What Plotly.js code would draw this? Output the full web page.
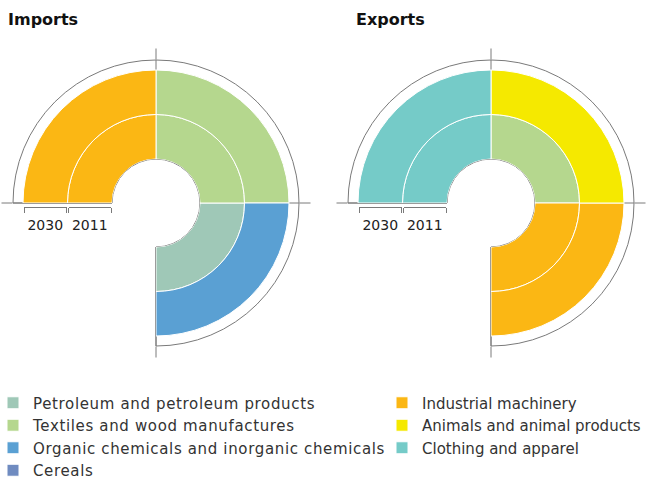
<!DOCTYPE html>
<html><head><meta charset="utf-8">
<script src="https://cdn.plot.ly/plotly-3.0.1.min.js"></script>
<style>html,body{margin:0;padding:0;background:#fff}#chart{width:662px;height:480px}
.legendtext{letter-spacing:0.65px}</style>
</head><body><div id="chart"></div>
<script>
// ---------- data ----------
const ranks = ['1st', '2nd', '3rd'];
const years = ['2011', '2030'];
const ringDepth = [1, 1]; // each year ring has the same radial depth (rank chart)
const importsTop2011 = ['Industrial machinery', 'Textiles and wood manufactures', 'Petroleum and petroleum products'];
const importsTop2030 = ['Industrial machinery', 'Textiles and wood manufactures', 'Organic chemicals and inorganic chemicals'];
const exportsTop2011 = ['Clothing and apparel', 'Textiles and wood manufactures', 'Industrial machinery'];
const exportsTop2030 = ['Clothing and apparel', 'Animals and animal products', 'Industrial machinery'];
const categories = ['Petroleum and petroleum products', 'Textiles and wood manufactures',
  'Organic chemicals and inorganic chemicals', 'Cereals', 'Industrial machinery',
  'Animals and animal products', 'Clothing and apparel'];
const categoryColors = ['#9fc8b7', '#b5d78e', '#5aa0d3', '#6f8bc0', '#fbb714', '#f5e900', '#75cbc8'];
const chartTitles = ['Imports', 'Exports'];

// ---------- geometry / style ----------
const W = 662, H = 480;
const CY = 203, R_HOLE = 44, RING_PX = 44.5, R_ARC = 143, TICK_OUT = 11;
const CENTERS = [156, 491];
const RANGE_MAX = (R_ARC - R_HOLE) / RING_PX;
const LABEL_R = (R_ARC + 18 - R_HOLE) / RING_PX;
const GREY = '#7a7a7a', TXT = '#222', FONT = 'DejaVu Sans';
const BRACKET_Y = 206.7;

const rankings = [[importsTop2011, importsTop2030], [exportsTop2011, exportsTop2030]];
const subplots = ['polar', 'polar2'];
const rankAngle = i => 135 - 90 * i;

const traces = [];
categories.forEach((cat, ci) => {
  let shown = false;
  rankings.forEach((chartRank, k) => {
    const r = [], base = [], theta = [], width = [];
    chartRank.forEach((list, yi) => {
      const b = ringDepth.slice(0, yi).reduce((a, v) => a + v, 0);
      list.forEach((name, ri) => {
        if (name === cat) { r.push(ringDepth[yi]); base.push(b); theta.push(rankAngle(ri)); width.push(90); }
      });
    });
    if (r.length) {
      traces.push({type: 'barpolar', subplot: subplots[k], name: cat, r, base, theta, width,
        marker: {color: categoryColors[ci], line: {color: '#fff', width: 1}},
        legend: ci < 4 ? 'legend' : 'legend2', showlegend: !shown, hoverinfo: 'name'});
      shown = true;
    }
  });
  if (!shown) {
    traces.push({type: 'barpolar', subplot: 'polar', name: cat, r: [null], theta: [null],
      marker: {color: categoryColors[ci], line: {color: '#fff', width: 1}},
      legend: ci < 4 ? 'legend' : 'legend2', showlegend: true});
  }
});

// rank labels
subplots.forEach(sp => {
  traces.push({type: 'scatterpolar', subplot: sp, mode: 'text', r: ranks.map(() => LABEL_R),
    theta: ranks.map((_, i) => rankAngle(i)), text: ranks, cliponaxis: false,
    textfont: {family: FONT, size: 14, color: TXT}, showlegend: false, hoverinfo: 'skip'});
});

function polarCfg(cx) {
  return {
    domain: {x: [(cx - R_ARC) / W, (cx + R_ARC) / W], y: [(H - CY - R_ARC) / H, (H - CY + R_ARC) / H]},
    sector: [-90, 180], hole: R_HOLE / R_ARC, bgcolor: 'rgba(0,0,0,0)',
    radialaxis: {visible: false, range: [0, RANGE_MAX], showgrid: false},
    angularaxis: {rotation: 0, direction: 'counterclockwise', tickmode: 'array', tickvals: [-90, 0, 90, 180],
      ticks: 'outside', ticklen: TICK_OUT, tickcolor: GREY, tickwidth: 1, showticklabels: false,
      showgrid: true, gridcolor: GREY, gridwidth: 1, showline: true, linecolor: GREY, linewidth: 1,
      layer: 'below traces'}
  };
}

const legendCommon = {xanchor: 'left', y: 1 - 386.5 / H, yanchor: 'top', orientation: 'v',
  font: {family: FONT, size: 15, color: '#333'}, bgcolor: 'rgba(0,0,0,0)', tracegroupgap: 0};

const layout = {
  width: W, height: H, margin: {l: 0, r: 0, t: 0, b: 0, autoexpand: false},
  paper_bgcolor: '#fff', plot_bgcolor: 'rgba(0,0,0,0)', font: {family: FONT, color: TXT},
  polar: polarCfg(CENTERS[0]), polar2: polarCfg(CENTERS[1]),
  legend: Object.assign({x: -7 / W}, legendCommon),
  legend2: Object.assign({x: 382 / W}, legendCommon),
  yaxis: {visible: false, range: [0, 1], fixedrange: true},
  annotations: chartTitles.map((t, k) => ({text: t, xref: 'paper', yref: 'paper',
    x: (k ? 354 : 6) / W, xanchor: 'left', y: 1 - 20 / H, yanchor: 'middle', showarrow: false,
    font: {family: FONT, size: 16, weight: 'bold', color: '#111'}}))
};

// year brackets below the left radius of each chart
let n = 0;
CENTERS.forEach(cx => {
  years.forEach((yr, j) => {
    n++;
    const id = n === 1 ? '' : String(n);
    const rIn = R_HOLE + RING_PX * j, rOut = R_HOLE + RING_PX * (j + 1);
    layout['xaxis' + id] = {domain: [(cx - rOut + 1) / W, (cx - rIn - 1) / W], anchor: 'free',
      position: 1 - BRACKET_Y / H, range: [0, 1], fixedrange: true,
      showline: true, linecolor: GREY, linewidth: 1, showgrid: false, zeroline: false,
      tickmode: 'array', tickvals: [0.5], ticktext: [yr], ticks: 'outside', ticklen: 5,
      tickcolor: 'rgba(0,0,0,0)', tickfont: {family: FONT, size: 14, color: TXT},
      minor: {tickmode: 'array', tickvals: [0, 1], ticks: 'outside', ticklen: 5, tickcolor: GREY,
        tickwidth: 1, showgrid: false}};
    traces.push({type: 'scatter', x: [], y: [], xaxis: 'x' + id, yaxis: 'y', showlegend: false, hoverinfo: 'skip'});
  });
});

Plotly.newPlot('chart', traces, layout, {displayModeBar: false, responsive: false});
</script>
</body></html>
